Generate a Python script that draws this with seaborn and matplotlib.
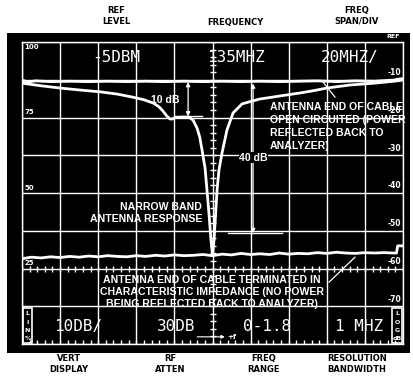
import numpy as np
import pandas as pd
import matplotlib
matplotlib.use("Agg")
import matplotlib.pyplot as plt
from matplotlib.patches import Rectangle
import seaborn as sns

# ---------------- data ----------------
# frequency axis: 135 MHz centre, 20 MHz/div -> 35..235 MHz ; level axis in dB (ref = 0, 10 dB/div)
open_freq = [35, 38, 42, 50, 60, 70, 80, 90, 100, 110, 120, 130, 140, 150, 160, 170, 180, 190,
             200, 210, 220, 226, 230, 233, 235]
open_db = [-10.1, -10.6, -10.3, -10.5, -10.4, -10.5, -10.4, -10.5, -10.4, -10.5, -10.4, -10.5,
           -10.4, -10.5, -10.4, -10.5, -10.4, -10.3, -10.5, -10.3, -10.4, -10.2, -10.1, -9.8, -9.7]

resp_freq = [35, 45, 55, 65, 76, 85, 93, 99, 104, 107, 109, 111, 112.7, 114, 115.5, 119, 122.7,
             124.8, 126.9, 128.3, 129.5, 131.1, 132.1, 133.2, 134.2, 135.0, 135.8, 136.6, 137.4,
             138.4, 140.0, 142.6, 145.8, 150.5, 154.7, 159.9, 165.2, 173, 181, 188, 195, 207,
             220, 228, 233.5]
resp_db = [-10.9, -11.6, -12.2, -12.7, -13.2, -13.8, -14.6, -15.3, -16.2, -17.2, -18.3, -19.6,
           -20.4, -20.4, -20.0, -19.9, -19.9, -20.7, -22.8, -25.2, -28.6, -33.4, -39.2, -45.8,
           -52.5, -56.4, -52.5, -45.8, -39.2, -33.9, -29.4, -23.3, -18.8, -16.4, -15.8, -15.1,
           -14.7, -14.1, -13.5, -12.9, -12.2, -11.4, -10.9, -10.5, -10.2]

term_freq = [35, 40, 45, 50, 55, 60, 65, 70, 75, 80, 85, 90, 95, 100, 105, 110, 115, 120, 125,
             130, 135, 140, 145, 150, 155, 160, 165, 170, 175, 180, 185, 190, 195, 200, 205, 210,
             215, 220, 225, 230, 231.6, 232.2, 235]
term_db = [-57.4, -57.0, -57.2, -56.9, -57.1, -56.8, -57.0, -56.7, -56.9, -56.6, -56.8, -56.9,
           -56.6, -56.8, -56.5, -56.7, -56.4, -56.6, -56.5, -56.3, -56.6, -56.2, -56.4, -56.0,
           -56.3, -56.1, -56.3, -55.9, -56.2, -56.0, -56.1, -55.8, -56.0, -55.7, -55.9, -56.0,
           -55.8, -55.9, -55.8, -55.9, -55.9, -54.0, -54.0]

freq_grid = [35, 55, 75, 95, 115, 135, 155, 175, 195, 215, 235]
db_grid = [-80, -70, -60, -50, -40, -30, -20, -10, 0]
right_labels = ["-10", "-20", "-30", "-40", "-50", "-60", "-70"]
left_labels = ["75", "50", "25"]

top_display = ["-5DBM", "135MHZ", "20MHZ/"]
bottom_display = ["10DB/", "30DB", "0-1.8", "1 MHZ"]
top_captions = ["REF\nLEVEL", "FREQUENCY", "FREQ\nSPAN/DIV"]
bottom_captions = ["VERT\nDISPLAY", "RF\nATTEN", "FREQ\nRANGE", "RESOLUTION\nBANDWIDTH"]
open_note = ["ANTENNA END OF CABLE", "OPEN CIRCUITED (POWER", "REFLECTED BACK TO", "ANALYZER)"]

open_df = pd.DataFrame({"freq": open_freq, "db": open_db})
resp_df = pd.DataFrame({"freq": resp_freq, "db": resp_db})
term_df = pd.DataFrame({"freq": term_freq, "db": term_db})

# ---------------- figure ----------------
W, H = 413, 385
fig = plt.figure(figsize=(W / 100, H / 100), dpi=100, facecolor="white")


def fx(x):
    return x / W


def fy(y):
    return 1 - y / H


# black CRT bezel (an axes of its own, behind the screen)
bezel = fig.add_axes([fx(7), fy(353), fx(410) - fx(7), fy(33) - fy(353)], zorder=-5)
bezel.set_facecolor("black")
bezel.set_xticks([])
bezel.set_yticks([])
for s in bezel.spines.values():
    s.set_visible(False)

ax = fig.add_axes([fx(22), fy(344), fx(403) - fx(22), fy(42) - fy(344)], zorder=1)
ax.set_facecolor("black")
ax.set_xlim(35, 235)
ax.set_ylim(-80, 0)
ax.set_xticks(freq_grid)
ax.set_yticks(db_grid)
ax.grid(True, color="white", lw=1.0)
ax.set_axisbelow(True)
ax.tick_params(length=0, labelbottom=False, labelleft=False)
for s in ax.spines.values():
    s.set_color("white")
    s.set_linewidth(1.0)

# graticule minor ticks
cy = np.arange(-80, 0.1, 2)
ax.plot([135] * len(cy), cy, ls="", marker="_", ms=5, mew=1, color="white")
tx = np.arange(35, 235.1, 4)
ax.plot(tx, [-60] * len(tx), ls="", marker="|", ms=4.5, mew=1, color="white")
ax.plot(tx, [-80] * len(tx), ls="", marker="|", ms=6, mew=1, color="white")

# traces
trace_kw = dict(color="white", lw=2.0, estimator=None, ax=ax, legend=False)
sns.lineplot(data=open_df, x="freq", y="db", sort=False, **trace_kw)
sns.lineplot(data=resp_df, x="freq", y="db", sort=False, **trace_kw)
sns.lineplot(data=term_df, x="freq", y="db", sort=False, **trace_kw)
ax.set_xlabel("")
ax.set_ylabel("")

# scale labels
for i, lbl in enumerate(right_labels):
    ax.text(234.2, -10 * (i + 1) + 0.7, lbl, ha="right", va="bottom", color="white",
            fontsize=5.5, fontweight="bold")
ax.text(36.2, -0.6, "100", ha="left", va="top", color="white", fontsize=5, fontweight="bold")
for i, lbl in enumerate(left_labels):
    ax.text(36.5, -20 * (i + 1) + 0.6, lbl, ha="left", va="bottom", color="white",
            fontsize=5, fontweight="bold")
fig.text(fx(400), fy(37), "REF", ha="right", va="center", color="white", fontsize=4.5,
         fontweight="bold")

# CRT readouts
crt = dict(color="white", fontsize=11.5, family="DejaVu Sans Mono", ha="center", va="center")
for xpos, txt in zip([84.3, 147.4, 207.2], top_display):
    ax.text(xpos, -4.2, txt, **crt)
for xpos, txt in zip([64.4, 115.9, 163.6, 211.9], bottom_display):
    ax.text(xpos, -75.4, txt, **crt)

# LIN% / LOG dB boxes
ax.add_patch(Rectangle((35.6, -79.8), 4.6, 9.4, fill=False, ec="white", lw=1.2))
for yy, ch in zip([-72.0, -74.2, -76.4, -78.6], ["L", "I", "N", "%"]):
    ax.text(37.9, yy, ch, ha="center", va="center", color="white", fontsize=4.5,
            fontweight="bold")
ax.add_patch(Rectangle((229.4, -79.8), 4.9, 9.4, fill=False, ec="white", lw=1.2))
for yy, ch in zip([-72.0, -74.2, -76.4, -78.6], ["L", "O", "G", "dB"]):
    ax.text(231.85, yy, ch, ha="center", va="center", color="white", fontsize=4.5,
            fontweight="bold")

# +f marker
ax.annotate("", xy=(141.5, -78.1), xytext=(127, -78.1),
            arrowprops=dict(arrowstyle="-|>", color="white", lw=0.8, mutation_scale=5,
                            shrinkA=0, shrinkB=0))
ax.text(142.5, -78.1, "+f", ha="left", va="center", color="white", fontsize=5,
        fontweight="bold")

# annotations
ann = dict(color="white", fontsize=7.6, fontweight="bold", family="Liberation Sans")
arrow_kw = dict(arrowstyle="<|-|>", color="white", lw=0.9, mutation_scale=6, shrinkA=0,
                shrinkB=0)
# 10 dB
ax.annotate("", xy=(122.2, -10.6), xytext=(122.2, -19.7), arrowprops=arrow_kw)
ax.plot([115.3, 129.5], [-19.7, -19.7], color="white", lw=1.0)
ax.text(117.5, -15.4, "10 dB", ha="right", va="center", **ann)
# 40 dB
ax.annotate("", xy=(156.3, -11.0), xytext=(156.3, -50.6), arrowprops=arrow_kw)
ax.plot([143.2, 171.5], [-50.6, -50.6], color="white", lw=1.0)
ax.text(156.6, -30.7, "40 dB", ha="center", va="center",
        bbox=dict(facecolor="black", edgecolor="none", pad=0.3), **ann)

# open-circuit note, one text per line (13 px = 3.44 dB apart)
for i, line in enumerate(open_note):
    ax.text(165.2, -18.0 - 3.44 * i, line, ha="left", va="baseline", **ann)
ax.plot([193.0, 199.3], [-10.6, -14.6], color="white", lw=0.9)

ax.text(129.5, -42.5, "NARROW BAND\nANTENNA RESPONSE", ha="right", va="top",
        linespacing=1.25, **ann)

ax.text(134.8, -61.6, "ANTENNA END OF CABLE TERMINATED IN\nCHARACTERISTIC IMPEDANCE (NO POWER\n"
        "BEING REFLECTED BACK TO ANALYZER)", ha="center", va="top", linespacing=1.25, **ann)
ax.plot([196.2, 209.8], [-63.6, -57.0], color="white", lw=0.9)

# captions outside the screen
cap = dict(color="black", fontsize=6, fontweight="bold", ha="center", va="center",
           linespacing=1.25)
fig.text(fx(116), fy(16), top_captions[0], **cap)
fig.text(fx(235), fy(22), top_captions[1], **cap)
fig.text(fx(357), fy(16), top_captions[2], **cap)
for xpos, txt in zip([69, 170, 264, 357], bottom_captions):
    fig.text(fx(xpos), fy(364), txt, **cap)

fig.savefig("out.png", dpi=100, facecolor="white")
